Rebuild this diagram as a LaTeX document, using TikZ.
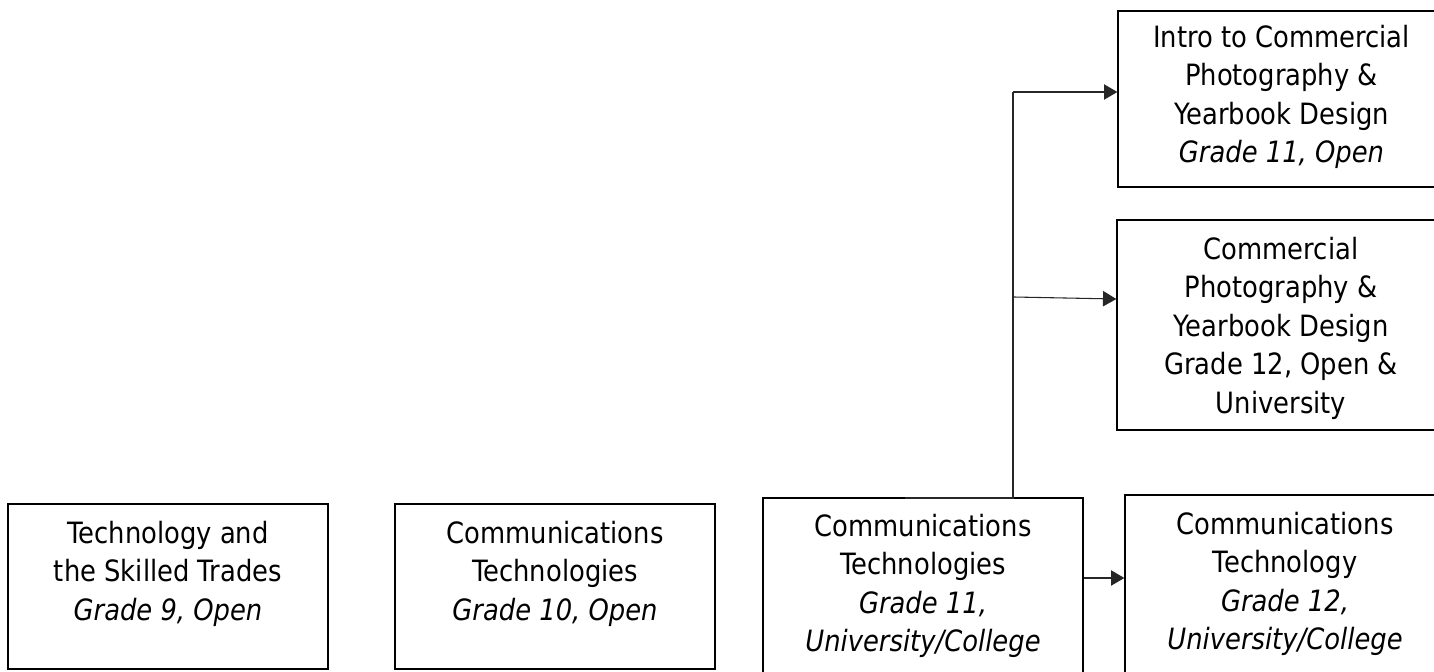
\documentclass[tikz,border=0pt]{standalone}
\usepackage{fontspec}
\setmainfont{DejaVu Sans}[FakeStretch=0.88]
\usetikzlibrary{arrows.meta}
\tikzset{
  box/.style={draw=black, line width=1pt, inner sep=0pt, fill=none},
  txt/.style={align=center, anchor=base, inner sep=0pt, font=\fontsize{22pt}{28.9pt}\selectfont},
  conn/.style={draw=black!85, line width=0.8pt},
  arr/.style={conn, -{Triangle[length=10pt,width=11.5pt]}}
}
\begin{document}
\begin{tikzpicture}[x=0.75pt,y=-0.75pt]
\useasboundingbox (0,0) rectangle (1434,671);
% boxes
\node[box, minimum width=240pt, minimum height=123.75pt] (b1) at (168,586.5) {};
\node[box, minimum width=240pt, minimum height=123.75pt] (b2) at (555,586.5) {};
\node[box, minimum width=240pt, minimum height=133.5pt] (b3) at (923,587) {};
\node[box, minimum width=240pt, minimum height=135.75pt] (b4) at (1285,585.5) {};
\node[box, minimum width=245.25pt, minimum height=132pt] (b5) at (1281.5,99) {};
\node[box, minimum width=246pt, minimum height=157.5pt] (b6) at (1281,325) {};
% texts (anchor base = baseline of the last line)
\node[txt] (t1) at ([yshift=-87.8pt]b1.north) {Technology and\\the Skilled Trades\\\textit{Grade 9, Open}};
\node[txt] (t2) at ([yshift=-87.8pt]b2.north) {Communications\\Technologies\\\textit{Grade 10, Open}};
\node[txt] (t3) at ([yshift=-115.95pt]b3.north) {Communications\\Technologies\\\textit{Grade 11,}\\\textit{University/College}};
\node[txt] (t4) at ([yshift=-116.7pt]b4.north) {Communications\\Technology\\\textit{Grade 12,}\\\textit{University/College}};
\node[txt] (t5) at ([yshift=-114.2pt]b5.north) {Intro to Commercial\\Photography \&\\Yearbook Design\\\textit{Grade 11, Open}};
\node[txt] (t6) at ([yshift=-145.6pt]b6.north) {Commercial\\Photography \&\\Yearbook Design\\Grade 12, Open \&\\University};
% connectors
\coordinate (s0) at (905,498);
\coordinate (vb) at (1013,498);
\coordinate (vt) at (1013,92);
\coordinate (vm) at (1014,297);
\coordinate (a3) at (b3.east |- 0,578);
\draw[conn] (s0) -- (vb) -- (vt);
\draw[arr] (vt) -- (vt -| b5.west);
\draw[arr] (vm) -- ([yshift=-1.5pt]vm -| b6.west);
\draw[arr] (a3) -- (a3 -| b4.west);
\end{tikzpicture}
\end{document}
